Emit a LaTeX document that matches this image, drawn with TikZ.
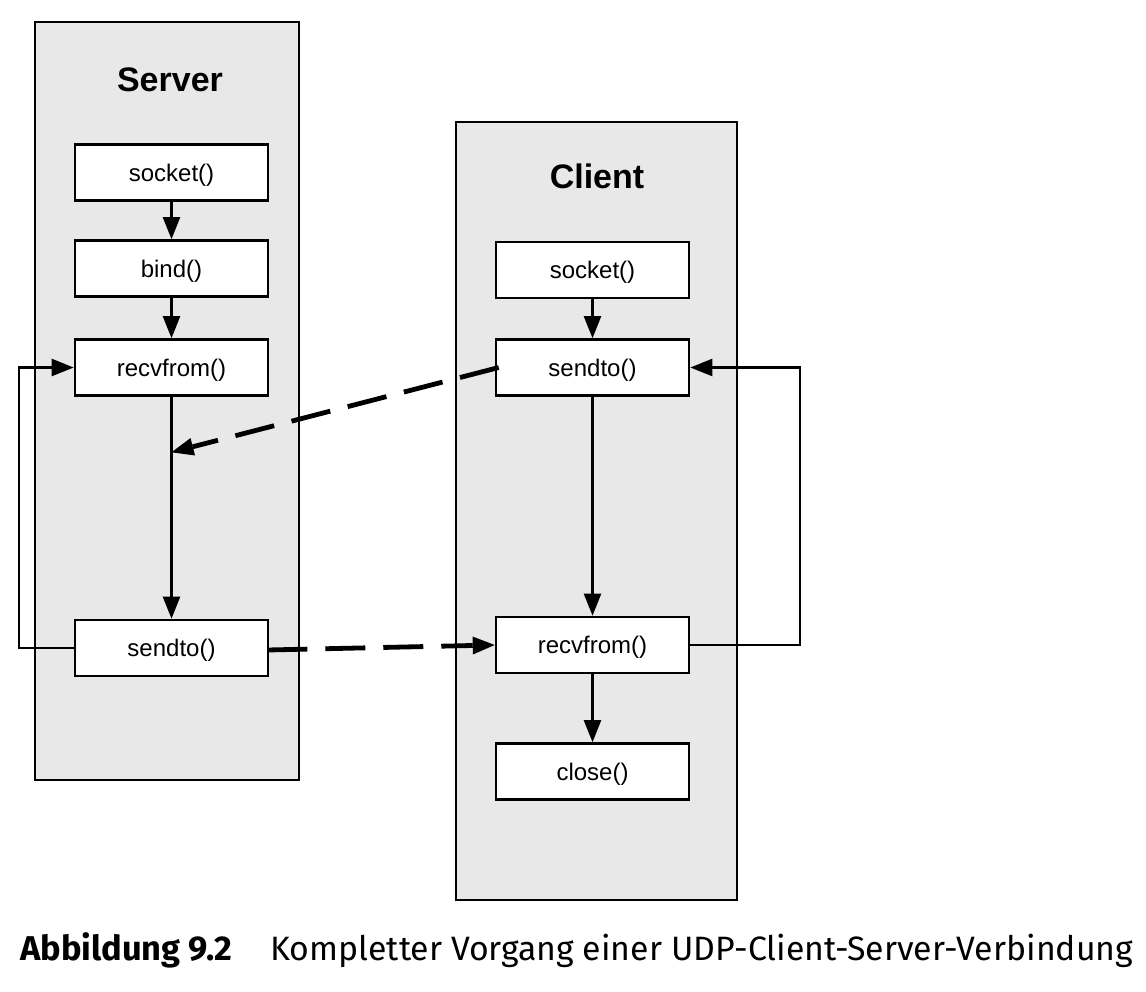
\documentclass[tikz,border=0pt]{standalone}
\usepackage{fontspec}
\setmainfont{Liberation Sans}
\newfontfamily\capfont{Fira Sans}
\usetikzlibrary{arrows.meta,calc}
\definecolor{panel}{HTML}{E8E8E8}
\begin{document}
\begin{tikzpicture}[x=0.5pt,y=-0.5pt,
  panelbox/.style={draw=black,line width=1.4pt,fill=panel,inner sep=0pt,minimum width=#1},
  fn/.style={draw=black,line width=1.3pt,fill=white,inner sep=0pt,minimum width=96.5pt,minimum height=28pt,text depth=0pt,font=\fontsize{12}{14}\selectfont},
  ttl/.style={font=\fontsize{17}{20}\selectfont\bfseries},
  arr/.style={line width=1.1pt,-{Triangle[length=11pt,width=8.5pt]}},
  msg/.style={line width=2.4pt,dash pattern=on 20pt off 9pt,-{Triangle[length=11pt,width=9pt,line width=0pt]}}]
\useasboundingbox (0,0) rectangle (1146,991);
% containers
\node[panelbox=132pt,minimum height=379pt] (server) at (167,401) {};
\node[panelbox=140.5pt,minimum height=389pt] (client) at (596.5,511) {};
\node[ttl] (stitle) at (170,80) {Server};
\node[ttl] (ctitle) at (597,176) {Client};
% server nodes
\node[fn] (sockS) at (171.5,172.5) {socket()};
\node[fn] (bindS) at (171.5,268.5) {bind()};
\node[fn] (recvS) at (171.5,367.5) {recvfrom()};
\node[fn] (sendS) at (171.5,648) {sendto()};
% client nodes
\node[fn] (sockC) at (592.5,270) {socket()};
\node[fn] (sendC) at (592.5,367.5) {sendto()};
\node[fn] (recvC) at (592.5,645) {recvfrom()};
\node[fn] (closeC) at (592.5,771.5) {close()};
% flow
\draw[arr] (sockS) -- (bindS);
\draw[arr] (bindS) -- (recvS);
\draw[arr] (recvS) -- (sendS);
\draw[arr] (sendS.west) -- ++(-55,0) |- (recvS.west);
\draw[arr] (sockC) -- (sendC);
\draw[arr] (sendC) -- (recvC);
\draw[arr] (recvC) -- (closeC);
\draw[arr] (recvC.east) -- ++(110,0) |- (sendC.east);
% messages
\coordinate (hit) at ($(recvS.south)!0.25!(sendS.north)$);
\draw[msg] ([xshift=2pt]sendC.west) -- (hit);
\draw[msg] ([xshift=-1pt,yshift=-1pt]sendS.east) -- (recvC.west);
% caption
\node[anchor=base west,inner sep=0pt,font=\capfont\fontsize{17.2}{20}\selectfont\bfseries] (capA) at (20,960) {Abbildung 9.2};
\node[anchor=base west,inner sep=0pt,font=\capfont\fontsize{16.9}{20}\selectfont] (capB) at (270,960) {Kompletter Vorgang einer UDP-Client-Server-Verbindung};
\end{tikzpicture}
\end{document}
